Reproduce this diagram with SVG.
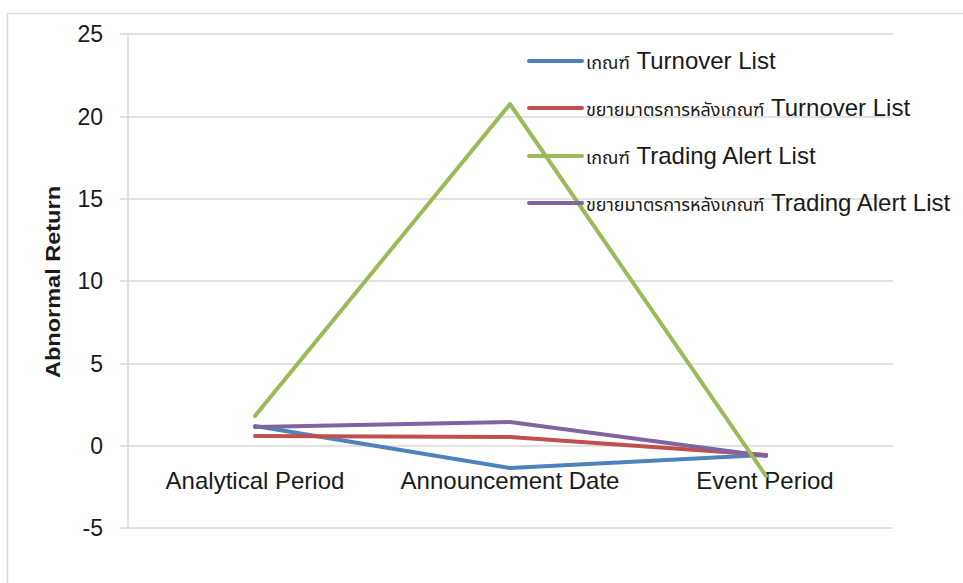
<svg xmlns="http://www.w3.org/2000/svg" width="963" height="583" viewBox="0 0 963 583">
<style>
.t{font-family:"Liberation Sans",Arial,sans-serif;fill:#1a1a1a}
.ax{font-size:23px;text-anchor:end}
.cat{font-size:24px;text-anchor:middle}
.lg{font-size:24px}
.th{font-family:"Noto Sans Thai","Noto Sans","DejaVu Sans",sans-serif;font-size:18px}
.grid{stroke:#d9d9d9;stroke-width:1.5;fill:none}
.s{fill:none;stroke-width:4;stroke-linecap:round;stroke-linejoin:round}
</style>
<rect width="963" height="583" fill="#ffffff"/>
<rect x="7.5" y="13.5" width="1000" height="1000" fill="none" stroke="#d9d9d9" stroke-width="1.5"/>
<g id="grid">
<path class="grid" d="M120 34H893M120 117H893M120 199H893M120 281H893M120 364H893M120 446H893M120 528H893M128 34V528"/>
</g>
<g id="yaxis">
<text class="t ax" x="103" y="42">25</text>
<text class="t ax" x="103" y="125">20</text>
<text class="t ax" x="103" y="207">15</text>
<text class="t ax" x="103" y="289">10</text>
<text class="t ax" x="103" y="372">5</text>
<text class="t ax" x="103" y="454">0</text>
<text class="t ax" x="103" y="536">-5</text>
<text class="t" font-size="21" font-weight="bold" text-anchor="middle" textLength="192" lengthAdjust="spacingAndGlyphs" transform="translate(60 282) rotate(-90)">Abnormal Return</text>
</g>
<g id="xaxis">
<text class="t cat" x="255" y="489">Analytical Period</text>
<text class="t cat" x="510" y="489">Announcement Date</text>
<text class="t cat" x="765" y="489">Event Period</text>
</g>
<g id="connectors">
<polyline id="s1" class="s" stroke="#4F81BD" points="255,426 510,468 766,455"/>
<polyline id="s2" class="s" stroke="#C0504D" points="255,436 510,437 766,455"/>
<polyline id="s4" class="s" stroke="#8064A2" points="255,427 510,422 766,456"/>
<polyline id="s3" class="s" stroke="#9BBB59" points="255,416 510,104 766,476"/>
</g>
<g id="legend">
<line class="s" stroke="#4F81BD" x1="529" y1="61" x2="582" y2="61"/>
<text class="t lg" x="586" y="69"><tspan class="th">เกณฑ์</tspan> Turnover List</text>
<line class="s" stroke="#C0504D" x1="529" y1="108" x2="582" y2="108"/>
<text class="t lg" x="586" y="116"><tspan class="th">ขยายมาตรการหลังเกณฑ์</tspan> Turnover List</text>
<line class="s" stroke="#9BBB59" x1="529" y1="156" x2="582" y2="156"/>
<text class="t lg" x="586" y="164"><tspan class="th">เกณฑ์</tspan> Trading Alert List</text>
<line class="s" stroke="#8064A2" x1="529" y1="203" x2="582" y2="203"/>
<text class="t lg" x="586" y="211"><tspan class="th">ขยายมาตรการหลังเกณฑ์</tspan> Trading Alert List</text>
</g>
</svg>
